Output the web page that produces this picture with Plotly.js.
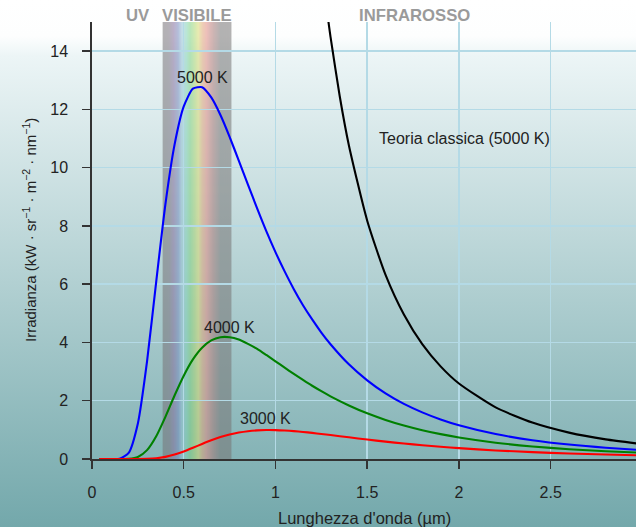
<!DOCTYPE html>
<html><head><meta charset="utf-8">
<script src="https://cdn.plot.ly/plotly-3.0.1.min.js"></script>
<style>
html,body{margin:0;padding:0;}
#chart{width:636px;height:527px;background:linear-gradient(to bottom,#ffffff 0px,#fdfefe 36px,#ecf5f6 56px,#73a8ab 527px);}
</style></head><body><div id="chart"></div>
<script>
// Wavelength (µm) and spectral radiance (kW·sr⁻¹·m⁻²·nm⁻¹)
const wavelength = [0.04,0.1,0.15,0.2,0.25,0.3,0.35,0.4,0.45,0.5,0.55,0.6,0.65,0.7,0.75,0.8,0.85,0.9,0.95,1.0,1.05,1.1,1.15,1.2,1.25,1.3,1.4,1.5,1.6,1.7,1.8,1.9,2.0,2.2,2.4,2.6,2.8,3.0];
const irr5000 = [0,0,0.007,0.21,1.22,3.35,6.09,8.74,10.79,12.10,12.71,12.76,12.41,11.81,11.06,10.24,9.42,8.60,7.82,7.10,6.44,5.83,5.28,4.79,4.34,3.94,3.25,2.70,2.25,1.89,1.60,1.356,1.157,0.856,0.645,0.495,0.386,0.305];
const irr4000 = [0,0,0,0.006,0.069,0.304,0.78,1.446,2.18,2.86,3.42,3.82,4.07,4.18,4.18,4.10,3.95,3.78,3.57,3.355,3.137,2.92,2.714,2.514,2.327,2.152,1.838,1.568,1.341,1.149,0.989,0.853,0.738,0.560,0.430,0.335,0.265,0.2115];
const irr3000 = [0,0,0,0,0,0.0056,0.0255,0.072,0.152,0.260,0.386,0.517,0.642,0.751,0.839,0.907,0.955,0.983,0.994,0.9925,0.979,0.957,0.929,0.896,0.860,0.823,0.745,0.668,0.597,0.531,0.472,0.419,0.372,0.294,0.235,0.188,0.152,0.124];
const classicalWl = [1.28,1.3,1.35,1.4,1.5,1.6,1.7,1.8,1.9,2.0,2.2,2.4,2.6,2.8,3.0];
const classical5000 = [15.42,14.49,12.46,10.77,8.18,6.32,4.96,3.94,3.18,2.59,1.77,1.25,0.906,0.673,0.511];
const xTicks = [0,0.5,1,1.5,2,2.5];
const xTickLabels = ['0','0.5','1','1.5','2','2.5'];
const yTicks = [0,2,4,6,8,10,12,14];
const visibleBand = [0.385,0.76];

const FONT = '"Liberation Sans", Arial, sans-serif';

// spectrum band image
function bandImage(){
  const c = document.createElement('canvas');
  c.width = 300; c.height = 4;
  const ctx = c.getContext('2d');
  const g = ctx.createLinearGradient(0,0,300,0);
  const a = 0.55;
  const stops = [
    [0,[118,115,118]],[0.093,[120,113,124]],[0.16,[133,110,158]],[0.227,[120,140,190]],
    [0.28,[151,196,214]],[0.347,[130,210,180]],[0.4,[129,210,129]],[0.467,[175,215,115]],
    [0.52,[216,218,114]],[0.573,[225,170,120]],[0.64,[224,138,129]],[0.733,[169,120,118]],
    [0.84,[118,115,115]],[1,[118,115,115]]
  ];
  stops.forEach(s=>g.addColorStop(s[0],`rgba(${s[1][0]},${s[1][1]},${s[1][2]},${a})`));
  ctx.fillStyle = g; ctx.fillRect(0,0,300,4);
  return c.toDataURL('image/png');
}

const lineW = 2.1;
const traces = [
  {x: wavelength, y: irr5000, mode:'lines', line:{color:'#0000ff', width:lineW, shape:'spline', smoothing:0.6}, hoverinfo:'skip'},
  {x: wavelength, y: irr4000, mode:'lines', line:{color:'#008000', width:lineW, shape:'spline', smoothing:0.6}, hoverinfo:'skip'},
  {x: wavelength, y: irr3000, mode:'lines', line:{color:'#ff0000', width:lineW, shape:'spline', smoothing:0.6}, hoverinfo:'skip'},
  {x: classicalWl, y: classical5000, mode:'lines', line:{color:'#000000', width:lineW, shape:'spline', smoothing:0.6}, hoverinfo:'skip'}
];

const gridC = '#b4dae6';
const axisC = '#333333';
const layout = {
  width:636, height:527,
  margin:{l:92, r:0, t:22, b:68},
  paper_bgcolor:'rgba(0,0,0,0)', plot_bgcolor:'rgba(0,0,0,0)',
  showlegend:false,
  font:{family:FONT, color:'#222', size:16},
  xaxis:{range:[0,2.965], tickvals:xTicks, ticktext:xTickLabels, showgrid:true, gridcolor:gridC, gridwidth:1.5,
    zeroline:false, showline:true, linecolor:axisC, linewidth:1.7, ticks:'outside', ticklen:8, tickwidth:1.5, tickcolor:axisC,
    tickfont:{size:16, family:FONT, color:'#222'}, ticklabelstandoff:10, fixedrange:true},
  yaxis:{range:[0,15], tickvals:yTicks, showgrid:true, gridcolor:gridC, gridwidth:1.5,
    zeroline:false, showline:true, linecolor:axisC, linewidth:1.7, ticks:'outside', ticklen:8, tickwidth:1.5, tickcolor:axisC,
    tickfont:{size:16, family:FONT, color:'#222'}, ticklabelstandoff:11, fixedrange:true},
  images:[{source:bandImage(), xref:'x', yref:'y', x:visibleBand[0], y:15, sizex:visibleBand[1]-visibleBand[0], sizey:15,
    xanchor:'left', yanchor:'top', sizing:'stretch', layer:'below'}],
  annotations:[
    {text:'5000 K', x:0.6, y:13.1, xref:'x', yref:'y', showarrow:false, font:{size:16}},
    {text:'4000 K', x:0.747, y:4.53, xref:'x', yref:'y', showarrow:false, font:{size:16}},
    {text:'3000 K', x:0.945, y:1.39, xref:'x', yref:'y', showarrow:false, font:{size:16}},
    {text:'Teoria classica (5000 K)', x:1.556, y:11.0, xref:'x', yref:'y', xanchor:'left', showarrow:false, font:{size:16}},
    {text:'<b>UV</b>', x:0.248, y:1, xref:'x', yref:'paper', yanchor:'middle', yshift:6.5, showarrow:false, font:{size:16.7, color:'#9a9a9a'}},
    {text:'<b>VISIBILE</b>', x:0.572, y:1, xref:'x', yref:'paper', yanchor:'middle', yshift:6.5, showarrow:false, font:{size:16.7, color:'#9a9a9a'}},
    {text:'<b>INFRAROSSO</b>', x:1.757, y:1, xref:'x', yref:'paper', yanchor:'middle', yshift:6.5, showarrow:false, font:{size:16.7, color:'#9a9a9a'}},
    {text:"Lunghezza d'onda (µm)", x:0.5, y:0, xref:'paper', yref:'paper', yanchor:'middle', yshift:-59, showarrow:false, font:{size:16.5}},
    {text:'Irradianza (kW · sr<sup>−1</sup> · m<sup>−2</sup> · nm<sup>−1</sup>)', x:0, y:0.524, xref:'paper', yref:'paper', xanchor:'center', yanchor:'middle', xshift:-63, textangle:-90, showarrow:false, font:{size:15}}
  ]
};

Plotly.newPlot('chart', traces, layout, {displayModeBar:false, staticPlot:true});
</script>
</body></html>
